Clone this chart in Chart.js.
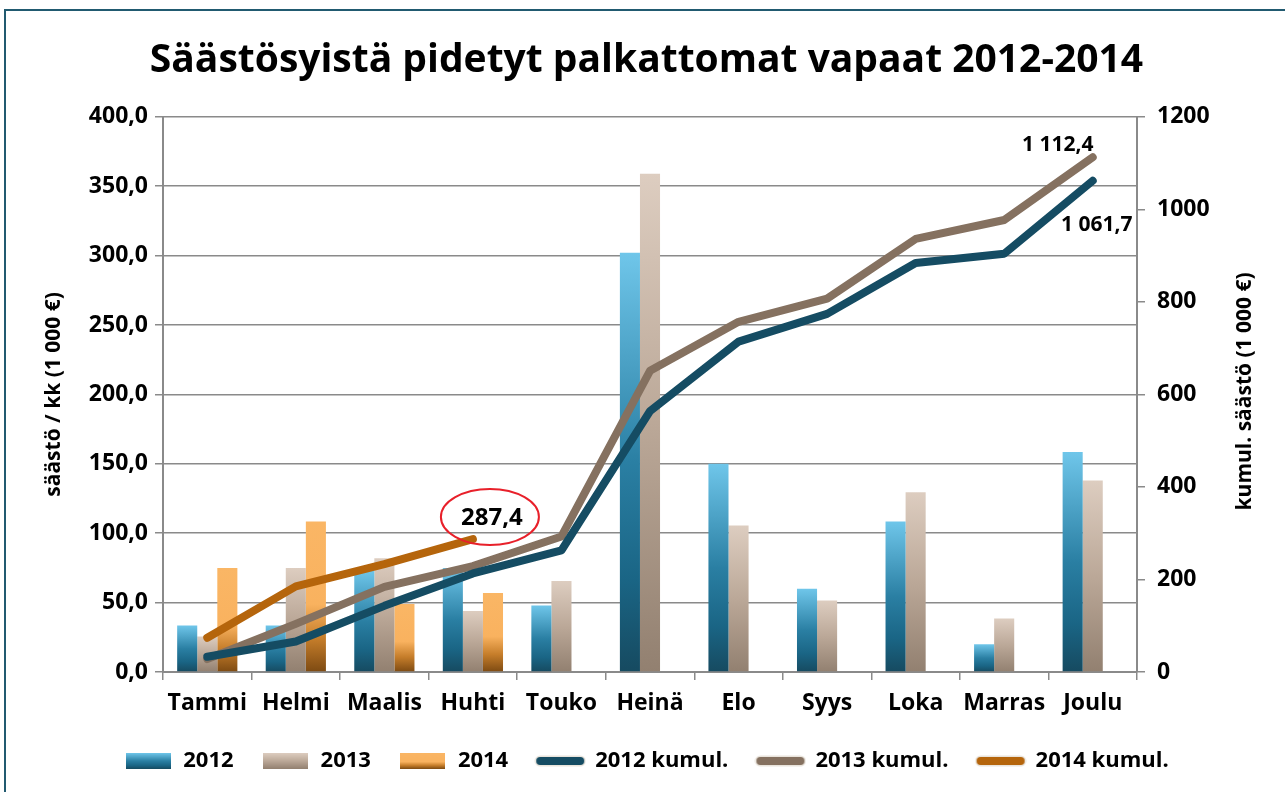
<!DOCTYPE html>
<html>
<head>
<meta charset="utf-8">
<script src="https://cdn.jsdelivr.net/npm/chart.js@4/dist/chart.umd.min.js"></script>
<style>
  html, body { margin: 0; padding: 0; background: #fff; }
  #wrap { width: 1285px; height: 792px; position: relative; }
</style>
</head>
<body>
<div id="wrap"><canvas id="chart"></canvas></div>
<script>
const FONT = '"Open Sans", "DejaVu Sans", sans-serif'

const months = ['Tammi', 'Helmi', 'Maalis', 'Huhti', 'Touko', 'Heinä', 'Elo', 'Syys', 'Loka', 'Marras', 'Joulu']
const save2012 = [33.5, 33.5, 73, 75, 48, 302, 150, 60, 108.5, 20, 158.5]
const save2013 = [25.5, 75, 82, 44, 65.5, 359, 105.5, 51.5, 129.5, 38.5, 138]
const save2014 = [75, 108.5, 49, 57, null, null, null, null, null, null, null]
const kumul2012 = [33, 66, 143, 213, 263, 564, 714, 774, 884, 904, 1061.7]
const kumul2013 = [28, 104, 184, 229, 293, 651, 757, 807, 936, 977, 1112.4]
const kumul2014 = [74, 185, 233, 287.4, null, null, null, null, null, null, null]
const leftTicks = [0, 50, 100, 150, 200, 250, 300, 350, 400]
const rightTicks = [0, 200, 400, 600, 800, 1000, 1200]

const GRAD_2012 = [[0, '#6fc6ea'], [0.5, '#2a7fa3'], [0.78, '#1a6585'], [1, '#164a60']]
const GRAD_2013 = [[0, '#ddcdc0'], [0.5, '#bba898'], [1, '#928070']]
const GRAD_2014 = [[0, '#fab665'], [0.55, '#f9b25f'], [0.78, '#c57d2a'], [1, '#7d4a12']]
const LINE_2012 = '#154c63'
const LINE_2013 = '#857160'
const LINE_2014 = '#b5650c'

function barGradient(stops) {
  return (ctx) => {
    const chart = ctx.chart
    if (!chart.chartArea || ctx.type !== 'data' || ctx.raw == null) return stops[0][1]
    const y = chart.scales.y
    const top = y.getPixelForValue(ctx.raw)
    const bottom = y.getPixelForValue(0)
    if (!(bottom > top)) return stops[0][1]
    const g = chart.ctx.createLinearGradient(0, top, 0, bottom)
    stops.forEach(s => g.addColorStop(s[0], s[1]))
    return g
  }
}

function boxIcon(stops) {
  const c = document.createElement('canvas')
  c.width = 45
  c.height = 16
  const x = c.getContext('2d')
  const g = x.createLinearGradient(0, 0, 0, 16)
  stops.forEach(s => g.addColorStop(s[0], s[1]))
  x.fillStyle = g
  x.fillRect(0, 0, 45, 16)
  return c
}

function lineIcon(color) {
  const c = document.createElement('canvas')
  c.width = 52
  c.height = 14
  const x = c.getContext('2d')
  x.lineCap = 'round'
  x.strokeStyle = '#e9e4dc'
  x.lineWidth = 11
  x.beginPath(); x.moveTo(6, 7); x.lineTo(46, 7); x.stroke()
  x.strokeStyle = color
  x.lineWidth = 8
  x.beginPath(); x.moveTo(6, 7); x.lineTo(46, 7); x.stroke()
  return c
}

const icons = [
  boxIcon(GRAD_2012), boxIcon(GRAD_2013), boxIcon(GRAD_2014),
  lineIcon(LINE_2012), lineIcon(LINE_2013), lineIcon(LINE_2014)
]

const fmtComma = (v, d) => v.toFixed(d).replace('.', ',')
const fmtThousand = (v) => {
  const [i, f] = v.toFixed(1).split('.')
  return i.replace(/\B(?=(\d{3})+(?!\d))/g, ' ') + ',' + f
}

const framePlugin = {
  id: 'frame',
  beforeDraw(chart) {
    const c = chart.ctx
    c.save()
    c.strokeStyle = '#215a70'
    c.lineWidth = 2
    c.strokeRect(5, 10, 1300, 800)
    c.restore()
  }
}

const rightTitlePlugin = {
  id: 'rightTitle',
  afterDraw(chart) {
    const c = chart.ctx
    const a = chart.chartArea
    c.save()
    c.translate(a.right + 108, (a.top + a.bottom) / 2 - 3)
    c.rotate(-Math.PI / 2)
    c.font = 'bold 21px ' + FONT
    c.fillStyle = '#000'
    c.textAlign = 'center'
    c.textBaseline = 'middle'
    c.fillText('kumul. säästö (1 000 €)', 0, 0)
    c.restore()
  }
}

function lastPoint(chart, index) {
  const meta = chart.getDatasetMeta(index)
  const data = chart.data.datasets[index].data
  let k = data.length - 1
  while (k >= 0 && data[k] == null) k -= 1
  return { el: meta.data[k], value: data[k] }
}

const labelPlugin = {
  id: 'endLabels',
  afterDatasetsDraw(chart) {
    const c = chart.ctx
    c.save()
    c.fillStyle = '#000'
    c.textAlign = 'center'
    c.textBaseline = 'middle'

    const p14 = lastPoint(chart, 5)
    const cx = p14.el.x + 17
    const cy = p14.el.y - 22
    c.strokeStyle = '#e8202a'
    c.lineWidth = 2
    c.beginPath()
    c.ellipse(cx, cy, 49, 28, 0, 0, Math.PI * 2)
    c.stroke()
    c.font = 'bold 24px ' + FONT
    c.fillText(fmtComma(p14.value, 1), cx + 2, cy + 1)

    c.font = 'bold 21px ' + FONT
    const p13 = lastPoint(chart, 4)
    c.fillText(fmtThousand(p13.value), p13.el.x - 35, p13.el.y - 12)
    const p12 = lastPoint(chart, 3)
    c.fillText(fmtThousand(p12.value), p12.el.x + 4, p12.el.y + 44)
    c.restore()
  }
}

const tickFont = { family: FONT, size: 23, weight: 'bold' }

const lineDataset = (label, data, color) => ({
  type: 'line',
  label,
  data,
  yAxisID: 'y1',
  borderColor: color,
  backgroundColor: color,
  borderWidth: 8,
  borderCapStyle: 'round',
  borderJoinStyle: 'round',
  pointRadius: 0,
  tension: 0,
  spanGaps: false,
  order: 0
})

const barDataset = (label, data, stops) => ({
  type: 'bar',
  label,
  data,
  yAxisID: 'y',
  backgroundColor: barGradient(stops),
  borderWidth: 0,
  order: 1
})

new Chart(document.getElementById('chart'), {
  data: {
    labels: months,
    datasets: [
      barDataset('2012', save2012, GRAD_2012),
      barDataset('2013', save2013, GRAD_2013),
      barDataset('2014', save2014, GRAD_2014),
      lineDataset('2012 kumul.', kumul2012, LINE_2012),
      lineDataset('2013 kumul.', kumul2013, LINE_2013),
      lineDataset('2014 kumul.', kumul2014, LINE_2014)
    ]
  },
  options: {
    responsive: true,
    maintainAspectRatio: false,
    animation: false,
    datasets: {
      bar: { categoryPercentage: 0.68, barPercentage: 1 }
    },
    layout: { padding: { left: 8, right: 0, top: 0, bottom: 10 } },
    plugins: {
      tooltip: { enabled: false },
      title: {
        display: true,
        text: 'Säästösyistä pidetyt palkattomat vapaat 2012-2014',
        color: '#000',
        font: { family: FONT, size: 39, weight: 'bold', lineHeight: 1.2 },
        padding: { top: 37, bottom: 33 }
      },
      legend: {
        position: 'bottom',
        labels: {
          color: '#000',
          font: { family: FONT, size: 22, weight: 'bold' },
          usePointStyle: true,
          pointStyleWidth: 48,
          boxHeight: 16,
          padding: 28,
          sort: (a, b) => a.datasetIndex - b.datasetIndex,
          generateLabels(chart) {
            const items = Chart.defaults.plugins.legend.labels.generateLabels(chart)
            items.forEach(it => { it.pointStyle = icons[it.datasetIndex] })
            return items
          }
        }
      }
    },
    scales: {
      x: {
        offset: true,
        afterFit(scale) { scale.height = 50 },
        grid: {
          offset: true,
          drawOnChartArea: false,
          drawTicks: true,
          tickLength: 8,
          color: '#8a8a8a',
          lineWidth: 1.5
        },
        border: { color: '#8a8a8a', width: 2 },
        ticks: { color: '#000', font: tickFont, padding: 10, maxRotation: 0 }
      },
      y: {
        position: 'left',
        min: 0,
        max: 400,
        afterFit(scale) { scale.width = 155 },
        afterBuildTicks(scale) { scale.ticks = leftTicks.map(v => ({ value: v })) },
        grid: { color: '#8a8a8a', lineWidth: 1.5, tickLength: 8 },
        border: { color: '#8a8a8a', width: 2 },
        ticks: {
          color: '#000',
          font: tickFont,
          padding: 7,
          callback: (v) => fmtComma(v, 1)
        },
        title: {
          display: true,
          text: 'säästö / kk (1 000 €)',
          color: '#000',
          font: { family: FONT, size: 21, weight: 'bold' },
          padding: { top: 33, bottom: 0 }
        }
      },
      y1: {
        position: 'right',
        min: 0,
        max: 1200,
        afterFit(scale) { scale.width = 148 },
        afterBuildTicks(scale) { scale.ticks = rightTicks.map(v => ({ value: v })) },
        grid: { drawOnChartArea: false, color: '#8a8a8a', lineWidth: 1.5, tickLength: 8 },
        border: { color: '#8a8a8a', width: 2 },
        ticks: { color: '#000', font: tickFont, padding: 12, callback: (v) => String(v) }
      }
    }
  },
  plugins: [framePlugin, rightTitlePlugin, labelPlugin]
})
</script>
</body>
</html>
